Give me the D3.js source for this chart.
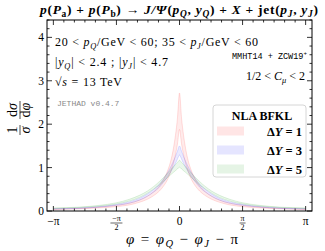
<!DOCTYPE html>
<html><head><meta charset="utf-8">
<script src="https://cdn.jsdelivr.net/npm/d3@7"></script>
<style>body{margin:0;background:#fff}svg{display:block}</style>
</head><body>
<svg id="c" width="325" height="251"></svg>
<script>
const phi = [-3.1416,-2.5,-2.0,-1.57,-1.25,-1.0,-0.8,-0.65,-0.5,-0.4,-0.3,-0.2,-0.15,-0.1,-0.05,0,0.05,0.1,0.15,0.2,0.3,0.4,0.5,0.65,0.8,1.0,1.25,1.57,2.0,2.5,3.1416];
const dy1Hi = [0.045,0.06,0.09,0.13,0.18,0.25,0.34,0.44,0.58,0.72,0.92,1.22,1.45,1.75,2.15,2.72,2.15,1.75,1.45,1.22,0.92,0.72,0.58,0.44,0.34,0.25,0.18,0.13,0.09,0.06,0.045];
const dy1Lo = [0.035,0.05,0.07,0.10,0.14,0.20,0.27,0.35,0.46,0.57,0.72,0.95,1.10,1.30,1.55,1.88,1.55,1.30,1.10,0.95,0.72,0.57,0.46,0.35,0.27,0.20,0.14,0.10,0.07,0.05,0.035];
const dy3Hi = [0.05,0.07,0.10,0.15,0.21,0.29,0.39,0.49,0.62,0.74,0.88,1.05,1.15,1.26,1.38,1.50,1.38,1.26,1.15,1.05,0.88,0.74,0.62,0.49,0.39,0.29,0.21,0.15,0.10,0.07,0.05];
const dy3Lo = [0.045,0.06,0.09,0.13,0.18,0.25,0.34,0.43,0.55,0.66,0.78,0.93,1.01,1.10,1.20,1.29,1.20,1.10,1.01,0.93,0.78,0.66,0.55,0.43,0.34,0.25,0.18,0.13,0.09,0.06,0.045];
const dy5Hi = [0.07,0.09,0.13,0.19,0.27,0.36,0.46,0.56,0.68,0.77,0.87,0.97,1.02,1.07,1.12,1.17,1.12,1.07,1.02,0.97,0.87,0.77,0.68,0.56,0.46,0.36,0.27,0.19,0.13,0.09,0.07];
const dy5Lo = [0.06,0.08,0.11,0.16,0.23,0.31,0.41,0.50,0.60,0.68,0.77,0.85,0.89,0.93,0.97,1.01,0.97,0.93,0.89,0.85,0.77,0.68,0.60,0.50,0.41,0.31,0.23,0.16,0.11,0.08,0.06];
const seriesNames = ["\u0394Y = 1","\u0394Y = 3","\u0394Y = 5"];
const seriesColors = ["255,0,0","0,0,255","0,150,0"];
const yTicks = [0,1,2,3,4];
const xTickVals = [-Math.PI,-Math.PI/2,0,Math.PI/2,Math.PI];

const svg = d3.select("#c");
const L=47,R=312,T=20,B=211;
const x = d3.scaleLinear().domain([-3.3,3.3]).range([L,R]);
const y = d3.scaleLinear().domain([0,4.4]).range([B,T]);
const serif = "'Liberation Serif', 'DejaVu Serif', serif";
const mono = "'Liberation Mono', 'DejaVu Sans Mono', monospace";

// bands
const bands = [[dy1Lo,dy1Hi],[dy3Lo,dy3Hi],[dy5Lo,dy5Hi]];
const area = d3.area().x(d=>x(d.p)).y0(d=>y(d.lo)).y1(d=>y(d.hi)).curve(d3.curveMonotoneX);
const lineHi = d3.line().x(d=>x(d.p)).y(d=>y(d.hi)).curve(d3.curveMonotoneX);
const lineLo = d3.line().x(d=>x(d.p)).y(d=>y(d.lo)).curve(d3.curveMonotoneX);
const gB = svg.append("g");
bands.forEach((b,k)=>{
  const data = phi.map((p,i)=>({p,lo:b[0][i],hi:b[1][i]}));
  gB.append("path").attr("d",area(data)).attr("fill",`rgba(${seriesColors[k]},0.08)`);
  gB.append("path").attr("d",lineHi(data)).attr("fill","none").attr("stroke",`rgba(${seriesColors[k]},0.12)`).attr("stroke-width",1);
  gB.append("path").attr("d",lineLo(data)).attr("fill","none").attr("stroke",`rgba(${seriesColors[k]},0.12)`).attr("stroke-width",1);
});

// frame
svg.append("rect").attr("x",L).attr("y",T).attr("width",R-L).attr("height",B-T).attr("fill","none").attr("stroke","#000").attr("stroke-width",1);

// ticks
const gt = svg.append("g").attr("stroke","#000").attr("stroke-width",0.8);
d3.range(0,4.41,0.2).forEach(v=>{
  const major = Math.abs(v-Math.round(v))<1e-6;
  const len = major?5:2.5;
  gt.append("line").attr("x1",L).attr("x2",L+len).attr("y1",y(v)).attr("y2",y(v));
  gt.append("line").attr("x1",R).attr("x2",R-len).attr("y1",y(v)).attr("y2",y(v));
});
d3.range(-12,13).forEach(k=>{
  const v = k*Math.PI/12;
  const major = k%6===0;
  const len = major?5:2.5;
  gt.append("line").attr("x1",x(v)).attr("x2",x(v)).attr("y1",B).attr("y2",B-len);
  gt.append("line").attr("x1",x(v)).attr("x2",x(v)).attr("y1",T).attr("y2",T+len);
});

// y tick labels
svg.append("g").selectAll("text").data(yTicks).join("text")
  .attr("x",L-3).attr("y",d=>y(d)+4).attr("text-anchor","end")
  .attr("font-family",serif).attr("font-size",11.5).text(d=>d);

// x tick labels
const gx = svg.append("g").attr("font-family",serif);
xTickVals.forEach((v,i)=>{
  const cx = x(v);
  if(i===0){ gx.append("text").attr("x",cx).attr("y",225).attr("text-anchor","middle").attr("font-size",11.5).text("\u2212\u03c0"); }
  else if(i===4){ gx.append("text").attr("x",cx).attr("y",225).attr("text-anchor","middle").attr("font-size",11.5).text("\u03c0"); }
  else if(i===2){ gx.append("text").attr("x",cx).attr("y",225).attr("text-anchor","middle").attr("font-size",11.5).text("0"); }
  else {
    const num = i===1?"\u2212\u03c0":"\u03c0";
    gx.append("text").attr("x",cx).attr("y",221).attr("text-anchor","middle").attr("font-size",8).text(num);
    gx.append("line").attr("x1",cx-(i===1?6:3)).attr("x2",cx+(i===1?6:3)).attr("y1",223).attr("y2",223).attr("stroke","#000").attr("stroke-width",0.6);
    gx.append("text").attr("x",cx).attr("y",230).attr("text-anchor","middle").attr("font-size",8).text("2");
  }
});

// rich text helper
function rich(sel, parts){
  let shift=0;
  parts.forEach(p=>{
    const ts = sel.append("tspan").text(p.t);
    if(p.i) ts.attr("font-style","italic");
    let target = p.s? 3 : (p.u? -4 : 0);
    if(target!==shift){ ts.attr("dy",target-shift); shift=target; }
    if(p.s||p.u) ts.attr("font-size","0.7em");
  });
}

// title
const title = svg.append("text").attr("x",40).attr("y",14)
  .attr("font-family",serif).attr("font-size",13.5).attr("font-weight","bold")
  .attr("textLength",278).attr("lengthAdjust","spacing");
rich(title,[{t:"p",i:1},{t:"("},{t:"P",i:1},{t:"a",s:1},{t:") + "},{t:"p",i:1},{t:"("},{t:"P",i:1},{t:"b",s:1},
  {t:") \u2192 "},{t:"J/\u03a8",i:1},{t:"("},{t:"p",i:1},{t:"Q",s:1,i:1},{t:", "},{t:"y",i:1},{t:"Q",s:1,i:1},{t:") + "},
  {t:"X",i:1},{t:" + jet("},{t:"p",i:1},{t:"J",s:1,i:1},{t:", "},{t:"y",i:1},{t:"J",s:1,i:1},{t:")"}]);

// annotations
const a1 = svg.append("text").attr("x",55).attr("y",46).attr("font-family",serif).attr("font-size",12)
  .attr("textLength",203).attr("lengthAdjust","spacing");
rich(a1,[{t:"20 < "},{t:"p",i:1},{t:"Q",i:1,s:1},{t:"/GeV < 60;  35 < "},{t:"p",i:1},{t:"J",i:1,s:1},{t:"/GeV < 60"}]);
const a2 = svg.append("text").attr("x",55).attr("y",66).attr("font-family",serif).attr("font-size",12)
  .attr("textLength",113).attr("lengthAdjust","spacing");
rich(a2,[{t:"|"},{t:"y",i:1},{t:"Q",i:1,s:1},{t:"| < 2.4 ;  |"},{t:"y",i:1},{t:"J",i:1,s:1},{t:"| < 4.7"}]);
const a3 = svg.append("text").attr("x",55).attr("y",86).attr("font-family",serif).attr("font-size",12)
  .attr("textLength",67).attr("lengthAdjust","spacing");
rich(a3,[{t:"\u221a"},{t:"s",i:1},{t:" = 13 TeV"}]);
const a4 = svg.append("text").attr("x",307).attr("y",59).attr("text-anchor","end").attr("font-family",mono).attr("font-size",8.5);
rich(a4,[{t:"MMHT14 "},{t:"+",}, {t:" ZCW19"},{t:"+",u:1}]);
const a5 = svg.append("text").attr("x",305).attr("y",80).attr("text-anchor","end").attr("font-family",serif).attr("font-size",12);
rich(a5,[{t:"1/2 < "},{t:"C",i:1},{t:"\u03bc",i:1,s:1},{t:" < 2"}]);
svg.append("text").attr("x",57).attr("y",106).attr("font-family",mono).attr("font-size",8).attr("fill","#888").text("JETHAD v0.4.7");

// legend
svg.append("rect").attr("x",213).attr("y",105).attr("width",93).attr("height",72).attr("rx",3)
  .attr("fill","#fff").attr("stroke","#ccc").attr("stroke-width",0.8);
svg.append("text").attr("x",262).attr("y",120).attr("text-anchor","middle").attr("font-family",serif)
  .attr("font-size",12).attr("font-weight","bold").text("NLA BFKL");
seriesNames.forEach((n,k)=>{
  const yy = 131+k*19;
  svg.append("rect").attr("x",217).attr("y",yy-4.5).attr("width",27).attr("height",9).attr("fill",`rgba(${seriesColors[k]},0.1)`);
  const t = svg.append("text").attr("x",302).attr("y",yy+4.5).attr("text-anchor","end").attr("font-family",serif)
    .attr("font-size",12.5).attr("font-weight","bold");
  rich(t,[{t:"\u0394"},{t:"Y",i:1},{t:" = "+n.split("= ")[1]}]);
});

// axis labels
const xl = svg.append("text").attr("x",126).attr("y",244).attr("font-family",serif).attr("font-size",15)
  .attr("textLength",112).attr("lengthAdjust","spacing");
rich(xl,[{t:"\u03c6",i:1},{t:" = "},{t:"\u03c6",i:1},{t:"Q",i:1,s:1},{t:" \u2212 "},{t:"\u03c6",i:1},{t:"J",i:1,s:1},{t:" \u2212 \u03c0"}]);
const yl = svg.append("g").attr("transform","translate(20,118) rotate(-90)").attr("font-family",serif).attr("font-size",14);
yl.append("text").attr("x",-12).attr("y",-3).attr("text-anchor","middle").text("1");
yl.append("text").attr("x",-12).attr("y",10).attr("text-anchor","middle").attr("font-style","italic").text("\u03c3");
yl.append("line").attr("x1",-17).attr("x2",-7).attr("y1",0).attr("y2",0).attr("stroke","#000").attr("stroke-width",0.7);
yl.append("text").attr("x",8).attr("y",-3).attr("text-anchor","middle").html("d<tspan font-style='italic'>\u03c3</tspan>");
yl.append("text").attr("x",8).attr("y",10).attr("text-anchor","middle").html("d<tspan font-style='italic'>\u03c6</tspan>");
yl.append("line").attr("x1",-1).attr("x2",17).attr("y1",0).attr("y2",0).attr("stroke","#000").attr("stroke-width",0.7);
</script>
</body></html>
